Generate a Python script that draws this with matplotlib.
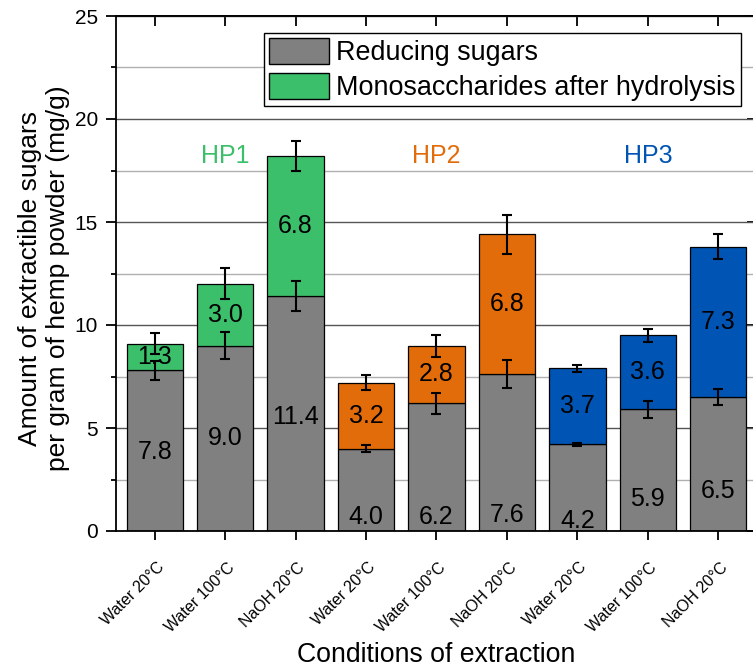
import numpy as np
import matplotlib
matplotlib.use("Agg")
import matplotlib.pyplot as plt
import matplotlib.transforms as mtransforms
from matplotlib.ticker import MultipleLocator
from matplotlib.patches import Patch

# data
conditions = ["Water 20°C", "Water 100°C", "NaOH 20°C"] * 3
groups = ["HP1", "HP2", "HP3"]
group_colors = ["#3cbf6a", "#e36c0a", "#0054b4"]

reducing = [7.8, 9.0, 11.4, 4.0, 6.2, 7.6, 4.2, 5.9, 6.5]
reducing_err = [0.45, 0.64, 0.73, 0.18, 0.52, 0.68, 0.06, 0.43, 0.40]
mono = [1.3, 3.0, 6.8, 3.2, 2.8, 6.8, 3.7, 3.6, 7.3]
mono_err = [0.50, 0.75, 0.73, 0.35, 0.53, 0.94, 0.18, 0.33, 0.60]

# where the grey value labels sit (they were placed by hand in the original)
reducing_label_y = [3.85, 4.5, 5.55, 0.7, 0.7, 0.8, 0.5, 1.55, 1.95]

plt.rcParams['font.family'] = ['Liberation Sans', 'DejaVu Sans']

fig = plt.figure(figsize=(7.53, 6.71), dpi=100)
# axes run slightly past the right edge, as in the cropped original
ax = fig.add_axes([116/753, 140/671, 641/753, 515/671])

x = np.arange(1, len(reducing) + 1)
top_colors = np.repeat(group_colors, 3)
totals = np.array(reducing) + np.array(mono)

ax.bar(x, reducing, 0.8, color='#808080', edgecolor='black', lw=0.9, zorder=2)
ax.bar(x, mono, 0.8, bottom=reducing, color=top_colors, edgecolor='black', lw=0.9, zorder=2)

for i in range(len(x)):
    ax.text(x[i], reducing_label_y[i], f"{reducing[i]:.1f}", ha='center', va='center', fontsize=18, zorder=3)
    ax.text(x[i], reducing[i] + mono[i] / 2, f"{mono[i]:.1f}", ha='center', va='center', fontsize=18, zorder=3)

ax.errorbar(x, reducing, yerr=reducing_err, fmt='none', ecolor='black',
            elinewidth=1.5, capsize=3.3, capthick=1.5, zorder=4)
ax.errorbar(x, totals, yerr=mono_err, fmt='none', ecolor='black',
            elinewidth=1.5, capsize=3.3, capthick=1.5, zorder=4)

for g, name in enumerate(groups):
    ax.text(x[3*g + 1], 18.2, name, color=group_colors[g], fontsize=18, ha='center', va='center')

ax.set_xlim(0.45, 9.55)
ax.set_ylim(0, 25)
ax.yaxis.set_major_locator(MultipleLocator(5))
ax.yaxis.set_minor_locator(MultipleLocator(2.5))
ax.grid(axis='y', which='major', color='#555555', lw=1.0)
ax.grid(axis='y', which='minor', color='#b0b0b0', lw=1.0)
ax.set_axisbelow(True)

ax.set_xticks(x)
ax.set_xticklabels(conditions, rotation=45, ha='right', va='center', rotation_mode='anchor', fontsize=11.5)
ax.tick_params(axis='x', direction='out', length=6.5, width=1.3, pad=18)
# nudge the slanted labels a little to the right, like the original
shift = mtransforms.ScaledTranslation(7/100, 0, fig.dpi_scale_trans)
for lab in ax.get_xticklabels():
    lab.set_transform(lab.get_transform() + shift)
ax.tick_params(axis='y', which='major', direction='out', length=7, width=1.3, labelsize=15, pad=6)
ax.tick_params(axis='y', which='minor', direction='out', length=3.5, width=1.3)
for s in ax.spines.values():
    s.set_linewidth(1.3)

top = ax.secondary_xaxis('top')
top.set_xticks(x)
top.tick_params(direction='in', length=7, width=1.3, labeltop=False)
top.spines['top'].set_linewidth(1.3)
right = ax.secondary_yaxis('right')
right.set_yticks([0, 5, 10, 15, 20, 25])
right.tick_params(direction='in', length=7, width=1.3, labelright=False)

ax.set_xlabel("Conditions of extraction", fontsize=19.2, va='center')
ax.xaxis.set_label_coords(0.5, -0.241)
ax.set_ylabel("Amount of extractible sugars\nper gram of hemp powder (mg/g)", fontsize=19,
              va='center', ha='center', linespacing=1.2)
ax.yaxis.set_label_coords(-0.112, 0.49)

handles = [Patch(facecolor='#808080', edgecolor='black'), Patch(facecolor=group_colors[0], edgecolor='black')]
ax.legend(handles, ["Reducing sugars", "Monosaccharides after hydrolysis"],
          loc='upper left', bbox_to_anchor=(0.231, 0.9675), borderaxespad=0, fontsize=19.4,
          fancybox=False, edgecolor='black', framealpha=1, handlelength=2.22, handleheight=1.1,
          handletextpad=0.26, borderpad=0.2, labelspacing=0.25)

fig.savefig("out.png", dpi=100)
